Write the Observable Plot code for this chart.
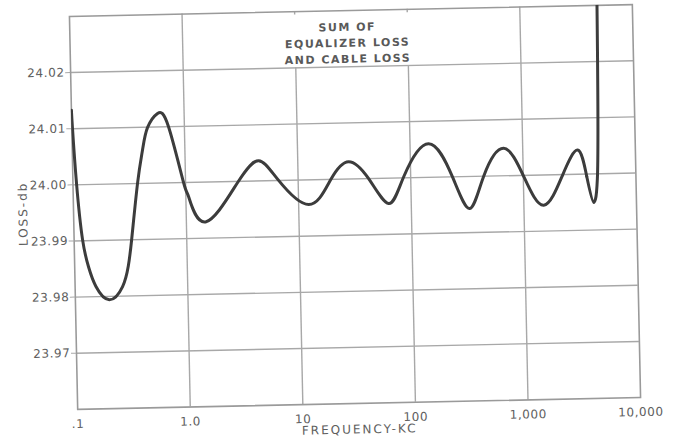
<!DOCTYPE html>
<html><head><meta charset="utf-8">
<script src="https://cdn.jsdelivr.net/npm/d3@7"></script>
<script src="https://cdn.jsdelivr.net/npm/@observablehq/plot@0.6"></script>
<style>
html,body{margin:0;padding:0;background:#fff;}
#chart{width:677px;height:443px;overflow:hidden;background:#fff;}
#chart svg{display:block;transform:rotate(-1.2deg);transform-origin:354.5px 206.5px;}
</style></head><body><div id="chart"></div>
<script>
// Frequency in kc and loss in db
const freqKc = [0.1, 0.1014, 0.1076, 0.1188, 0.1328, 0.1531, 0.200, 0.264, 0.299, 0.324, 0.375, 0.421, 0.470, 0.581, 0.723, 0.96, 1.06, 1.48, 2.9, 4.5, 6.6, 12.3, 19.5, 28.3, 42.3, 63, 86.7, 146, 236, 330, 445, 676, 1009, 1500, 2244, 3076, 3656, 4178, 4330, 4540, 4900];
const lossDb = [24.0133, 24.0101, 24.0002, 23.9902, 23.9853, 23.9818, 23.9794, 23.9817, 23.9853, 23.9900, 24.0001, 24.0060, 24.0099, 24.0124, 24.0100, 24.0000, 23.9974, 23.9929, 23.9998, 24.0036, 24.0002, 23.9956, 24.0000, 24.0031, 24.0000, 23.9955, 24.0002, 24.006, 23.9999, 23.9943, 24.0000, 24.0049, 23.9998, 23.9946, 24.0000, 24.0043, 23.9996, 23.9949, 23.9955, 23.9991, 24.04];
// the near-vertical rise at the top end starts here
const spikeStartKc = 3656;
const xTicks = [0.1, 1, 10, 100, 1000, 10000];
const xTickLabels = [".1", "1.0", "10", "100", "1,000", "10,000"];
const yTicks = [23.97, 23.98, 23.99, 24.00, 24.01, 24.02];
const yTickLabels = ["23.97", "23.98", "23.99", "24.00", "24.01", "24.02"];
const fullGridX = [1, 1000];
const shortGridX = [10, 100];
const titleLines = ["SUM OF", "EQUALIZER LOSS", "AND CABLE LOSS"];
const xLabel = "FREQUENCY-KC";
const yLabel = "LOSS-db";

const data = freqKc.map((f, i) => ({f, loss: lossDb[i]}));
const mainPart = data.filter(d => d.f <= spikeStartKc);
const spikePart = data.filter(d => d.f >= spikeStartKc);
const yMin = 23.96, yMax = 24.03;

const plot = Plot.plot({
  width: 677, height: 443,
  marginLeft: 73, marginRight: 41, marginTop: 10, marginBottom: 40,
  style: {fontFamily: "DejaVu Sans", fontSize: "12px", color: "#5e5e5e", background: "#fff"},
  x: {type: "log", domain: [0.1, 10000]},
  y: {domain: [yMin, yMax]},
  marks: [
    Plot.ruleY(yTicks, {stroke: "#a8a8a8", strokeWidth: 1.4}),
    Plot.ruleX(fullGridX, {stroke: "#a8a8a8", strokeWidth: 1.4}),
    Plot.ruleX(shortGridX, {y1: yMin, y2: yTicks[yTicks.length - 1], stroke: "#a8a8a8", strokeWidth: 1.4}),
    Plot.ruleX(shortGridX, {y1: yMax, y2: yMax - 0.0006, stroke: "#a8a8a8", strokeWidth: 1.4}),
    Plot.frame({stroke: "#9a9a9a", strokeWidth: 1.6}),
    Plot.axisX({ticks: xTicks, tickFormat: d => xTickLabels[xTicks.indexOf(d)], tickSize: 0, tickPadding: 10,
      label: xLabel, labelAnchor: "center", labelArrow: "none", labelOffset: 30}),
    Plot.axisY({ticks: yTicks, tickFormat: d => yTickLabels[yTicks.indexOf(d)], tickSize: 5, tickPadding: 1,
      label: yLabel, labelAnchor: "center", labelArrow: "none", labelOffset: 55, stroke: "#a8a8a8"}),
    Plot.line(mainPart, {x: "f", y: "loss", curve: "natural", stroke: "#3c3c3c", strokeWidth: 3, strokeLinecap: "round", clip: true}),
    Plot.line(spikePart, {x: "f", y: "loss", curve: "catmull-rom", stroke: "#3c3c3c", strokeWidth: 3, strokeLinecap: "round", clip: true}),
    Plot.text([titleLines.join("\n")], {frameAnchor: "top", dx: -4, dy: 9, lineHeight: 1.45, fontSize: 11, fontWeight: "bold", fill: "#595959", lineAnchor: "top"})
  ]
});
document.getElementById("chart").appendChild(plot);
const svg = d3.select(plot);
svg.selectAll("text").style("letter-spacing", "0.6px");
svg.selectAll("[aria-label='x-axis label'] text, [aria-label='y-axis label'] text").style("letter-spacing", "2px");
svg.selectAll("[aria-label='text'] text").style("letter-spacing", "1.5px");
</script>
</body></html>
